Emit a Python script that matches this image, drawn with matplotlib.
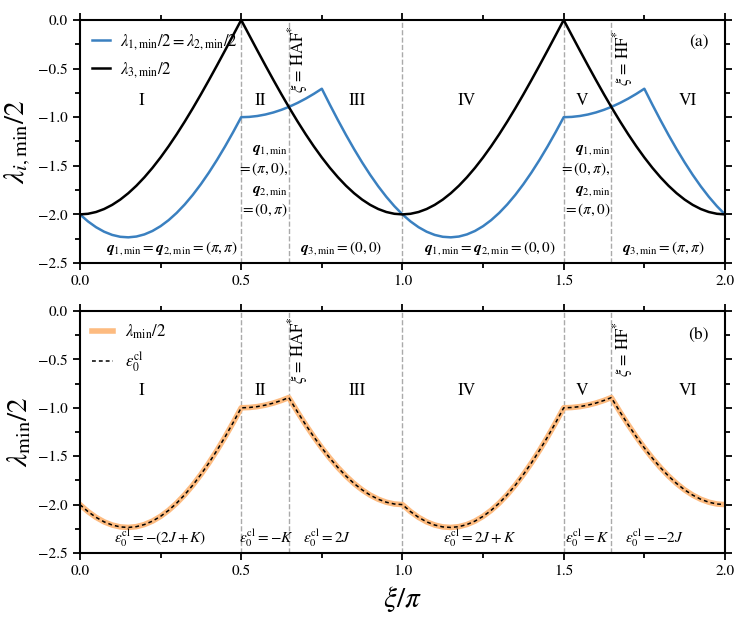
import matplotlib
matplotlib.use("Agg")
import matplotlib.pyplot as plt
from matplotlib.ticker import MultipleLocator

plt.rcParams["font.family"] = "STIXGeneral"
plt.rcParams["mathtext.fontset"] = "stix"

# xi/pi sample points (step 0.025)
xi = [round(0.025 * k, 3) for k in range(81)]

# lambda_{1,min}/2 = lambda_{2,min}/2
lam1 = [-2.0000, -2.0723, -2.1318, -2.1782, -2.2111, -2.2304, -2.2360, -2.2278, -2.2058, -2.1703,
        -2.1213, -2.0593, -1.9846, -1.8976, -1.7990, -1.6892, -1.5691, -1.4393, -1.3006, -1.1538,
        -1.0000, -0.9969, -0.9877, -0.9724, -0.9511, -0.9239, -0.8910, -0.8526, -0.8090, -0.7604,
        -0.7071, -0.8714, -1.0302, -1.1828, -1.3280, -1.4651, -1.5931, -1.7113, -1.8190, -1.9154,
        -2.0000, -2.0723, -2.1318, -2.1782, -2.2111, -2.2304, -2.2360, -2.2278, -2.2058, -2.1703,
        -2.1213, -2.0593, -1.9846, -1.8976, -1.7990, -1.6892, -1.5691, -1.4393, -1.3006, -1.1538,
        -1.0000, -0.9969, -0.9877, -0.9724, -0.9511, -0.9239, -0.8910, -0.8526, -0.8090, -0.7604,
        -0.7071, -0.8714, -1.0302, -1.1828, -1.3280, -1.4651, -1.5931, -1.7113, -1.8190, -1.9154,
        -2.0000]

# lambda_{3,min}/2
lam3 = [-2.0000, -1.9938, -1.9754, -1.9447, -1.9021, -1.8478, -1.7820, -1.7053, -1.6180, -1.5208,
        -1.4142, -1.2989, -1.1756, -1.0450, -0.9080, -0.7654, -0.6180, -0.4669, -0.3129, -0.1569,
        0.0000, -0.1569, -0.3129, -0.4669, -0.6180, -0.7654, -0.9080, -1.0450, -1.1756, -1.2989,
        -1.4142, -1.5208, -1.6180, -1.7053, -1.7820, -1.8478, -1.9021, -1.9447, -1.9754, -1.9938,
        -2.0000, -1.9938, -1.9754, -1.9447, -1.9021, -1.8478, -1.7820, -1.7053, -1.6180, -1.5208,
        -1.4142, -1.2989, -1.1756, -1.0450, -0.9080, -0.7654, -0.6180, -0.4669, -0.3129, -0.1569,
        0.0000, -0.1569, -0.3129, -0.4669, -0.6180, -0.7654, -0.9080, -1.0450, -1.1756, -1.2989,
        -1.4142, -1.5208, -1.6180, -1.7053, -1.7820, -1.8478, -1.9021, -1.9447, -1.9754, -1.9938,
        -2.0000]

# panel (b): lambda_min/2 and the classical energy, with the two phase boundaries added
xi_b = sorted(xi + [0.6476, 1.6476])
lam_min = [-2.0000, -2.0723, -2.1318, -2.1782, -2.2111, -2.2304, -2.2360, -2.2278, -2.2058, -2.1703,
           -2.1213, -2.0593, -1.9846, -1.8976, -1.7990, -1.6892, -1.5691, -1.4393, -1.3006, -1.1538,
           -1.0000, -0.9969, -0.9877, -0.9724, -0.9511, -0.9239, -0.8944, -0.9080, -1.0450, -1.1756,
           -1.2989, -1.4142, -1.5208, -1.6180, -1.7053, -1.7820, -1.8478, -1.9021, -1.9447, -1.9754,
           -1.9938, -2.0000,
           -2.0723, -2.1318, -2.1782, -2.2111, -2.2304, -2.2360, -2.2278, -2.2058, -2.1703,
           -2.1213, -2.0593, -1.9846, -1.8976, -1.7990, -1.6892, -1.5691, -1.4393, -1.3006, -1.1538,
           -1.0000, -0.9969, -0.9877, -0.9724, -0.9511, -0.9239, -0.8944, -0.9080, -1.0450, -1.1756,
           -1.2989, -1.4142, -1.5208, -1.6180, -1.7053, -1.7820, -1.8478, -1.9021, -1.9447, -1.9754,
           -1.9938, -2.0000]
eps_cl = list(lam_min)

boundaries = [0.5, 0.6476, 1.0, 1.5, 1.6476]
region_x = [0.19, 0.56, 0.86, 1.20, 1.556, 1.885]
region_names = ["I", "II", "III", "IV", "V", "VI"]

q_labels = [(0.287, r"$\boldsymbol{q}_{1,\min} = \boldsymbol{q}_{2,\min} = (\pi,\pi)$"),
            (0.81, r"$\boldsymbol{q}_{3,\min} = (0,0)$"),
            (1.27, r"$\boldsymbol{q}_{1,\min} = \boldsymbol{q}_{2,\min} = (0,0)$"),
            (1.81, r"$\boldsymbol{q}_{3,\min} = (\pi,\pi)$")]
eps_labels = [(0.25, r"$\varepsilon_0^{\mathrm{cl}} = -(2J+K)$"),
              (0.577, r"$\varepsilon_0^{\mathrm{cl}} = -K$"),
              (0.766, r"$\varepsilon_0^{\mathrm{cl}} = 2J$"),
              (1.24, r"$\varepsilon_0^{\mathrm{cl}} = 2J+K$"),
              (1.572, r"$\varepsilon_0^{\mathrm{cl}} = K$"),
              (1.78, r"$\varepsilon_0^{\mathrm{cl}} = -2J$")]

blue = "#3a80c0"
orange = "#fdbb80"

fig = plt.figure(figsize=(7.47, 6.21), dpi=100)
ax1 = fig.add_axes([0.107, 0.5765, 0.8635, 0.3913])
ax2 = fig.add_axes([0.107, 0.1095, 0.8635, 0.3897])


def style(ax):
    ax.set_xlim(0, 2)
    ax.set_ylim(-2.5, 0)
    ax.xaxis.set_major_locator(MultipleLocator(0.5))
    ax.xaxis.set_minor_locator(MultipleLocator(0.25))
    ax.yaxis.set_major_locator(MultipleLocator(0.5))
    ax.yaxis.set_minor_locator(MultipleLocator(0.25))
    ax.tick_params(which="both", direction="out", top=True, right=True,
                   labelsize=11, width=1.3)
    ax.tick_params(which="major", length=5)
    ax.tick_params(which="minor", length=3.5)
    for s in ax.spines.values():
        s.set_linewidth(1.5)
    for b in boundaries:
        ax.axvline(b, color="#aaaaaa", ls="--", lw=1, zorder=0)
    for x, name in zip(region_x, region_names):
        ax.text(x, -0.83, name, ha="center", va="center", fontsize=12.5)
    ax.text(0.676, -0.40, r"$\xi$ = HAF$^{*}$", rotation=90, ha="center", va="center", fontsize=12)
    ax.text(1.684, -0.39, r"$\xi$ = HF$^{*}$", rotation=90, ha="center", va="center", fontsize=12)


# panel (a)
style(ax1)
ax1.plot(xi, lam1, color=blue, lw=1.8, label=r"$\lambda_{1,\min}/2 = \lambda_{2,\min}/2$")
ax1.plot(xi, lam3, color="black", lw=1.8, label=r"$\lambda_{3,\min}/2$")
ax1.set_ylabel(r"$\lambda_{i,\min}/2$", fontsize=21)
ax1.text(0.975, 0.91, "(a)", transform=ax1.transAxes, ha="right", va="center", fontsize=12.5)
for x, s in q_labels:
    ax1.text(x, -2.35, s, ha="center", va="center", fontsize=11)
ax1.text(0.645, -1.45, "$\\boldsymbol{q}_{1,\\min}$\n$= (\\pi,0),$", ha="right", va="center",
         fontsize=11, linespacing=1.3)
ax1.text(0.645, -1.87, "$\\boldsymbol{q}_{2,\\min}$\n$= (0,\\pi)$", ha="right", va="center",
         fontsize=11, linespacing=1.3)
ax1.text(1.645, -1.45, "$\\boldsymbol{q}_{1,\\min}$\n$= (0,\\pi),$", ha="right", va="center",
         fontsize=11, linespacing=1.3)
ax1.text(1.645, -1.87, "$\\boldsymbol{q}_{2,\\min}$\n$= (\\pi,0)$", ha="right", va="center",
         fontsize=11, linespacing=1.3)
ax1.legend(loc="upper left", frameon=False, fontsize=12, handlelength=1.1,
           handletextpad=0.6, borderaxespad=0.3, labelspacing=0.5)

# panel (b)
style(ax2)
ax2.plot(xi_b, lam_min, color=orange, lw=4, label=r"$\lambda_{\min}/2$")
ax2.plot(xi_b, eps_cl, color="black", lw=1.1, ls=(0, (2.5, 2)), label=r"$\varepsilon_0^{\mathrm{cl}}$")
ax2.set_ylabel(r"$\lambda_{\min}/2$", fontsize=21)
ax2.set_xlabel(r"$\xi/\pi$", fontsize=21)
ax2.text(0.975, 0.9, "(b)", transform=ax2.transAxes, ha="right", va="center", fontsize=12.5)
for x, s in eps_labels:
    ax2.text(x, -2.35, s, ha="center", va="center", fontsize=11)
ax2.legend(loc="upper left", frameon=False, fontsize=12, handlelength=1.3,
           handletextpad=0.7, borderaxespad=0.3, labelspacing=0.5)

fig.savefig("out.png", dpi=100)
